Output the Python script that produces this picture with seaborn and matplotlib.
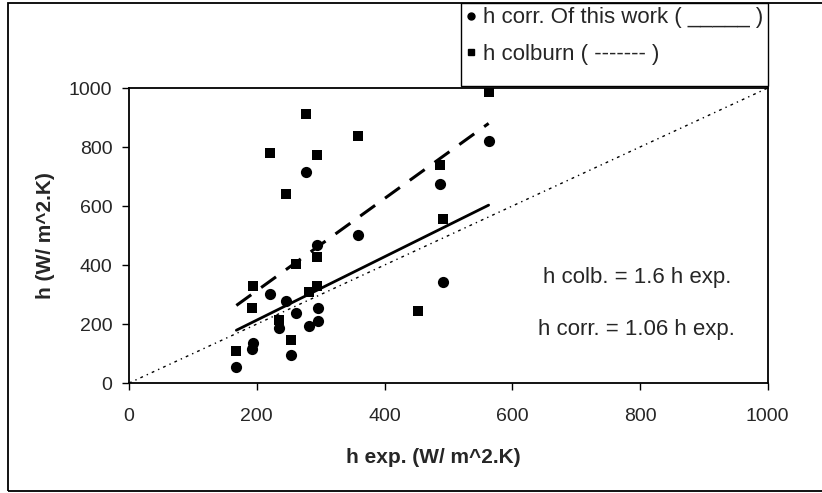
import numpy as np
import pandas as pd
import matplotlib
matplotlib.use('Agg')
import matplotlib.pyplot as plt
from matplotlib.lines import Line2D
from matplotlib.patches import Rectangle
import seaborn as sns

sns.set_theme(style='ticks')
plt.rcParams['font.family'] = ['Liberation Sans', 'DejaVu Sans']

# h corr. of this work (circles)
corr_x = [277, 487, 359, 295, 563, 492, 221, 245, 261, 296, 235, 282, 296, 194, 192, 253, 168]
corr_y = [716, 676, 503, 469, 820, 342, 302, 277, 238, 255, 187, 192, 209, 136, 117, 94, 54]

# h colburn (squares)
colb_x = [277, 359, 221, 295, 245, 487, 492, 261, 295, 563, 194, 192, 295, 282, 235, 253, 168, 453]
colb_y = [912, 836, 779, 772, 641, 739, 555, 405, 428, 987, 328, 255, 328, 309, 215, 147, 110, 243]

# trend lines
fit_x = [168, 563]
corr_fit = [179, 603]
colb_fit = [263, 880]

# y = x reference line
ref_x = [0, 1000]
ref_y = [0, 1000]

ticks = [0, 200, 400, 600, 800, 1000]

corr = pd.DataFrame({'x': corr_x, 'y': corr_y})
colb = pd.DataFrame({'x': colb_x, 'y': colb_y})

fig, ax = plt.subplots(figsize=(8.22, 4.93), dpi=100)
fig.subplots_adjust(left=0.157, right=0.934, bottom=0.223, top=0.8215)

ax.plot(ref_x, ref_y, color='black', lw=1.0, ls=(0, (2, 3, 1, 3)), zorder=2)
sns.lineplot(x=fit_x, y=corr_fit, ax=ax, color='black', lw=2.0, zorder=3)
ax.plot(fit_x, colb_fit, color='black', lw=2.2, ls=(0, (6, 4)), zorder=3)

sns.scatterplot(data=colb, x='x', y='y', ax=ax, marker='s', s=55, color='black',
                edgecolor='black', linewidth=0, zorder=4)
sns.scatterplot(data=corr, x='x', y='y', ax=ax, marker='o', s=65, color='black',
                edgecolor='black', linewidth=0, zorder=4)

ax.set_xlim(0, 1000)
ax.set_ylim(0, 1000)
ax.set_xticks(ticks)
ax.set_yticks(ticks)
ax.tick_params(axis='both', labelsize=14, length=5, width=1, color='black')
ax.tick_params(axis='x', pad=13)
ax.tick_params(axis='y', pad=7)
for sp in ax.spines.values():
    sp.set_color('black')
    sp.set_linewidth(1.3)

ax.set_xlabel('h exp. (W/ m^2.K)', fontsize=15, fontweight='bold')
ax.xaxis.set_label_coords(0.476, -0.22)
ax.set_ylabel('h (W/ m^2.K)', fontsize=15, fontweight='bold', labelpad=10)

ax.text(795, 359, 'h colb. = 1.6 h exp.', fontsize=16, ha='center', va='center')
ax.text(795, 180, 'h corr. = 1.06 h exp.', fontsize=16, ha='center', va='center')

# outer chart border
fig.patches.append(Rectangle((0.0097, 0.004), 1.2, 0.99, transform=fig.transFigure,
                             fill=False, edgecolor='black', linewidth=1.3, zorder=0))
# legend box
fig.patches.append(Rectangle((0.561, 0.826), 0.373, 0.168, transform=fig.transFigure,
                             facecolor='white', edgecolor='black', linewidth=1.0, zorder=1))

handles = [
    Line2D([], [], marker='o', ls='none', color='black', markersize=5),
    Line2D([], [], marker='s', ls='none', color='black', markersize=5),
]
labels = ['h corr. Of this work ( _____ )', 'h colburn ( ------- )']
leg = fig.legend(handles, labels, loc='upper left', bbox_to_anchor=(0.561, 0.994),
                 borderaxespad=0, frameon=False, fontsize=16,
                 handlelength=0.5, handletextpad=0.3, labelspacing=0.68,
                 borderpad=0.2)

fig.savefig('out.png', dpi=100)
